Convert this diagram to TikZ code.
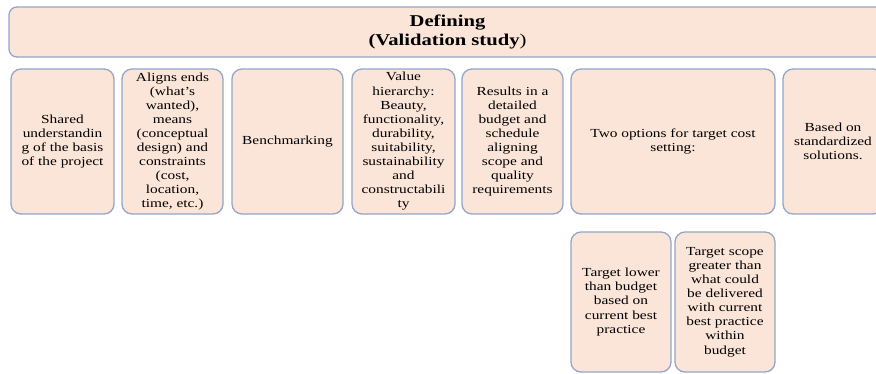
\documentclass[tikz,border=0pt]{standalone}
\usepackage{fontspec}
\setmainfont[FakeStretch=1.25]{Liberation Serif}
\begin{document}
\begin{tikzpicture}[x=1pt,y=-1pt,
  card/.style={draw=boxline, fill=boxfill, line width=1.3pt, rounded corners=10pt,
    align=center, inner sep=0pt, text=black,
    font=\fontsize{12.3}{14.1}\selectfont},
  banner/.style={card, rounded corners=8pt, font=\fontsize{16.5}{19}\selectfont\bfseries}]
\definecolor{boxfill}{HTML}{FBE5D8}
\definecolor{boxline}{HTML}{93A5C9}
\useasboundingbox (0,0) rectangle (876,373);
\clip (0,0) rectangle (876,373);

% heading bar
\node[banner, minimum width=877pt, minimum height=50pt] (head) at (447.5,32)
  {Defining\\(Validation study{\mdseries)}};

% first row of steps
\node[card, minimum width=103pt, minimum height=145pt] (s1) at (62.5,141.5)
  {Shared\\understandin\\g of the basis\\of the project};
\node[card, minimum width=101pt, minimum height=145pt] (s2) at (172.5,141.5)
  {Aligns ends\\(what’s\\wanted),\\means\\(conceptual\\design) and\\constraints\\(cost,\\location,\\time, etc.)};
\node[card, minimum width=111pt, minimum height=145pt] (s3) at (287.5,141.5)
  {Benchmarking};
\node[card, minimum width=103pt, minimum height=145pt] (s4) at (403.5,141.5)
  {Value\\hierarchy:\\Beauty,\\functionality,\\durability,\\suitability,\\sustainability\\and\\constructabili\\ty};
\node[card, minimum width=101pt, minimum height=145pt] (s5) at (512.5,141.5)
  {Results in a\\detailed\\budget and\\schedule\\aligning\\scope and\\quality\\requirements};
\node[card, minimum width=204pt, minimum height=145pt] (s6) at (673,141.5)
  {Two options for target cost\\setting:};
\node[card, minimum width=100pt, minimum height=145pt] (s7) at (833,141.5)
  {Based on\\standardized\\solutions.};

% the two target cost options
\node[card, minimum width=100pt, minimum height=140pt] (o1) at (621,302)
  {Target lower\\than budget\\based on\\current best\\practice};
\node[card, minimum width=100pt, minimum height=140pt] (o2) at (725,302)
  {Target scope\\greater than\\what could\\be delivered\\with current\\best practice\\within\\budget};
\end{tikzpicture}
\end{document}
